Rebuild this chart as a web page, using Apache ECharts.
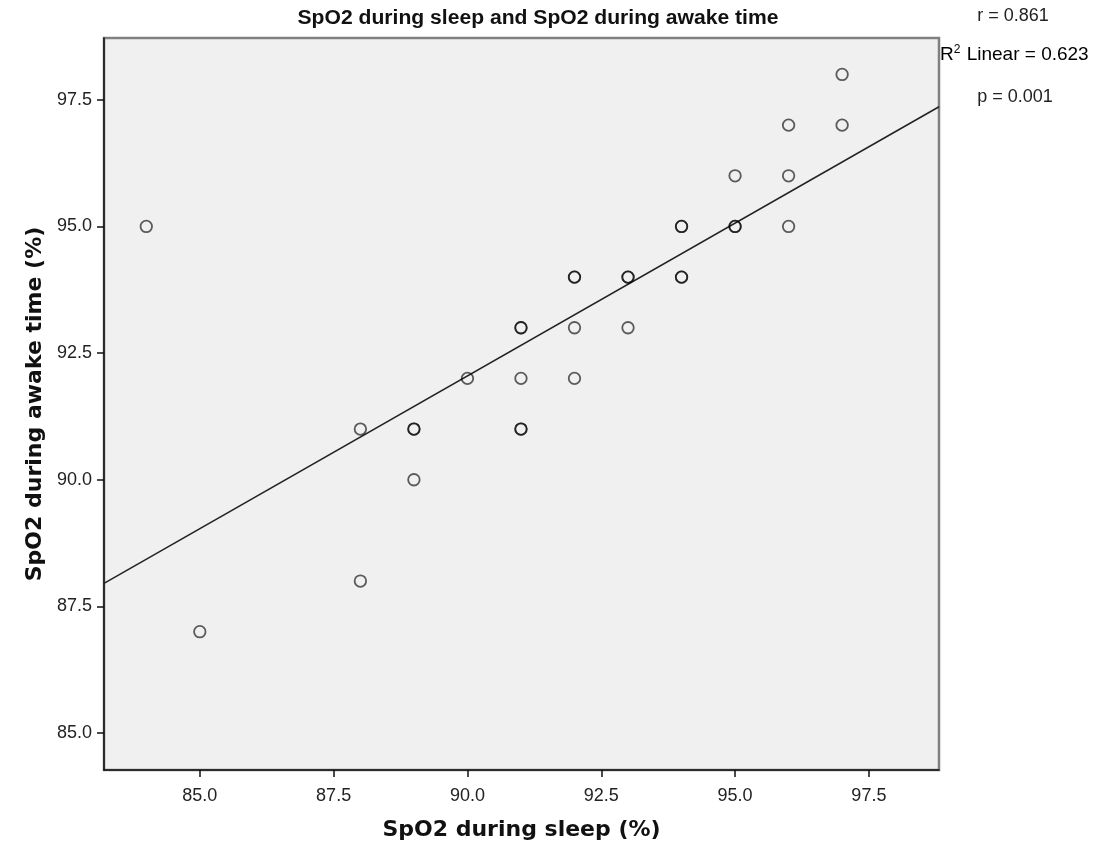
<!DOCTYPE html>
<html>
<head>
<meta charset="utf-8">
<title>SpO2 scatter</title>
<script src="https://cdn.jsdelivr.net/npm/echarts@6/dist/echarts.min.js"></script>
<style>
  html, body { margin: 0; padding: 0; background: #fff; }
  #chart { width: 1100px; height: 857px; }
</style>
</head>
<body>
<div id="chart"></div>
<script>
// SpO2 during sleep (x) and during awake time (y); repeated pairs are overlapping points
var sleepValues = [84, 85, 88, 88, 89, 89, 89, 90, 91, 91, 91, 91, 91, 92, 92, 92, 92,
                   93, 93, 93, 94, 94, 94, 94, 95, 95, 95, 96, 96, 96, 97, 97];
var awakeValues = [95, 87, 91, 88, 91, 91, 90, 92, 93, 93, 92, 91, 91, 94, 94, 93, 92,
                   94, 94, 93, 95, 95, 94, 94, 96, 95, 95, 97, 96, 95, 98, 97];
var tickValues = [85, 87.5, 90, 92.5, 95, 97.5];

// fit line
var fitIntercept = 37.78;
var fitSlope = 0.603;

var xMin = 83.21, xMax = 98.81;
var yMin = 84.27, yMax = 98.72;

var titleText = 'SpO2 during sleep and SpO2 during awake time';

var points = [];
for (var i = 0; i < sleepValues.length; i++) {
	points.push([sleepValues[i], awakeValues[i]]);
}
var fitLine = [
	[xMin, fitIntercept + fitSlope * xMin],
	[xMax, fitIntercept + fitSlope * xMax]
];

// title in the picture is a narrow bold face, squeeze a normal one to the same width
var titleFont = 'bold 20px "Liberation Sans"';
var ctx = document.createElement('canvas').getContext('2d');
ctx.font = titleFont;
var titleScale = 481 / ctx.measureText(titleText).width;

var tickLabel = {
	color: '#222',
	fontFamily: 'Liberation Sans',
	fontSize: 18,
	customValues: tickValues,
	formatter: function (v) { return v.toFixed(1); }
};

var statFont = '18px "Liberation Sans"';

var myChart = echarts.init(document.getElementById('chart'));
myChart.setOption({
	animation: false,
	graphic: [
		{
			type: 'text', x: 538, y: 18, scaleX: titleScale,
			style: { text: titleText, fill: '#111', font: titleFont, align: 'center', verticalAlign: 'middle' }
		},
		{
			type: 'text', x: 1013, y: 16,
			style: { text: 'r = 0.861', fill: '#222', font: statFont, align: 'center', verticalAlign: 'middle' }
		},
		{
			type: 'text', x: 940, y: 55,
			style: {
				text: '{n|R}{s|2}{n| Linear = 0.623}',
				verticalAlign: 'middle',
				rich: {
					n: { fontFamily: 'Liberation Sans', fontSize: 19, color: '#222' },
					s: { fontFamily: 'Liberation Sans', fontSize: 12, color: '#222', padding: [0, 1, 10, 0] }
				}
			}
		},
		{
			type: 'text', x: 1015, y: 97,
			style: { text: 'p = 0.001', fill: '#222', font: statFont, align: 'center', verticalAlign: 'middle' }
		}
	],
	grid: {
		left: 104,
		right: 161,
		top: 38,
		bottom: 87,
		show: true,
		backgroundColor: '#f0f0f0',
		borderColor: '#808080',
		borderWidth: 2.5
	},
	xAxis: {
		type: 'value',
		min: xMin,
		max: xMax,
		name: 'SpO2 during sleep (%)',
		nameLocation: 'middle',
		nameGap: 49,
		nameTextStyle: { fontFamily: 'DejaVu Sans', fontWeight: 'bold', fontSize: 22, color: '#111' },
		axisLine: { show: true, onZero: false, lineStyle: { color: '#111', width: 1.5 } },
		axisTick: { show: true, length: 7, customValues: tickValues, lineStyle: { color: '#111', width: 1.5 } },
		axisLabel: Object.assign({ margin: 17 }, tickLabel),
		splitLine: { show: false }
	},
	yAxis: {
		type: 'value',
		min: yMin,
		max: yMax,
		name: 'SpO2 during awake time (%)',
		nameLocation: 'middle',
		nameGap: 58,
		nameTextStyle: { fontFamily: 'DejaVu Sans', fontWeight: 'bold', fontSize: 22, color: '#111' },
		axisLine: { show: true, onZero: false, lineStyle: { color: '#111', width: 1.5 } },
		axisTick: { show: true, length: 7, customValues: tickValues, lineStyle: { color: '#111', width: 1.5 } },
		axisLabel: Object.assign({ margin: 12 }, tickLabel),
		splitLine: { show: false }
	},
	series: [
		{
			type: 'line',
			data: fitLine,
			symbol: 'none',
			lineStyle: { color: '#222', width: 1.5 },
			z: 2
		},
		{
			type: 'scatter',
			data: points,
			symbol: 'circle',
			symbolSize: 11.5,
			itemStyle: {
				color: 'rgba(0,0,0,0)',
				borderColor: 'rgba(0,0,0,0.78)',
				borderWidth: 1.8
			},
			z: 3
		}
	]
});
</script>
</body>
</html>
